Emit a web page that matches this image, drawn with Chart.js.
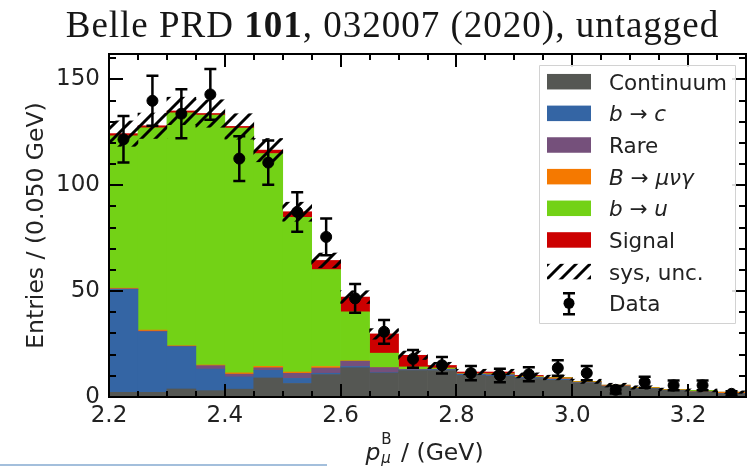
<!DOCTYPE html>
<html>
<head>
<meta charset="utf-8">
<script src="https://cdn.jsdelivr.net/npm/chart.js@4.4.1/dist/chart.umd.min.js"></script>
<style>
    html, body { margin: 0; padding: 0; background: #fff; }
    #wrap { position: relative; width: 753px; height: 467px; overflow: hidden; }
    #title {
        position: absolute; left: 0; top: 6px; width: 785px;
        text-align: center; white-space: nowrap;
        font-family: "Liberation Serif", serif; font-size: 37px; line-height: 37px;
        letter-spacing: 1px; color: #161616;
    }
    #rule { position: absolute; left: 0; top: 464px; width: 327px; height: 2px; background: #a3bfdc; }
    #axesBox { position: absolute; border: 2px solid #000; box-sizing: border-box; pointer-events: none; }
</style>
</head>
<body>
<div id="wrap">
    <canvas id="histChart" width="753" height="467"></canvas>
    <div id="axesBox"></div>
    <div id="title">Belle PRD <b>101</b>, 032007 (2020), untagged</div>
    <div id="rule"></div>
</div>
<script>
// p_mu^B bins, 0.05 GeV wide, 2.2 - 3.3 GeV (bin centres)
const binCenters = [2.225, 2.275, 2.325, 2.375, 2.425, 2.475, 2.525, 2.575, 2.625, 2.675, 2.725,
                    2.775, 2.825, 2.875, 2.925, 2.975, 3.025, 3.075, 3.125, 3.175, 3.225, 3.275];

// stacked components, bottom to top
const continuum    = [2.2, 2.2, 3.8, 3.0, 3.7, 9.0, 6.4, 10.6, 13.8, 11.3, 12.5, 12.5, 10.2, 9.8, 8.7, 7.9, 6.6, 5.0, 3.9, 3.1, 2.3, 1.5];
const bToC         = [48.6, 28.6, 19.9, 10.2, 5.8, 3.6, 2.4, 0.6, 0.6, 0.2, 0.3, 0.4, 0.5, 0.5, 0.4, 0.5, 0.1, 0.1, 0.1, 0.05, 0.05, 0.05];
const rare         = [0.3, 0.3, 0.3, 1.6, 1.3, 1.2, 2.4, 2.5, 2.5, 2.4, 0.2, 0.2, 0.2, 0.3, 0.2, 0.1, 0.1, 0.1, 0.1, 0.05, 0.05, 0.05];
const bToMuNuGamma = [0.3, 0.5, 0.2, 0.3, 0.6, 0.7, 0.6, 0.7, 0.2, 0.1, 0.1, 0.1, 0.1, 0.2, 0.2, 0.5, 0.4, 0.3, 0.3, 0.2, 0.2, 0.6];
const bToU         = [72.0, 95.5, 110.0, 118.0, 115.6, 100.5, 73.0, 45.8, 23.1, 6.7, 1.1, 0.5, 0.2, 0.2, 0.2, 0.1, 0.1, 0.1, 0.1, 0.1, 0.5, 0.1];
const signal       = [1.0, 1.0, 0.9, 0.8, 0.8, 1.6, 2.7, 4.3, 7.0, 9.1, 5.5, 1.2, 0.6, 0.8, 0.5, 0.1, 0.1, 0, 0, 0, 0, 0];

// systematic band half-width around the total
const sysUnc = [6, 6, 6.5, 6.5, 6, 5.5, 4.5, 3.5, 3, 2.5, 2, 1.5, 1.3, 1.3, 1.2, 1.1, 1, 0.9, 0.8, 0.7, 0.7, 0.6];

// measured data with statistical errors
const dataCounts = [121.7, 139.9, 133.8, 142.9, 112.6, 110.7, 87.4, 75.6, 46.6, 30.8, 18.0, 15.0, 11.3, 10.2, 10.7, 13.7, 11.3, 3.4, 7.0, 5.5, 5.5, 1.5];
const dataErr    = [11.0, 11.8, 11.6, 12.0, 10.6, 10.5, 9.3, 8.7, 6.8, 5.6, 4.2, 3.9, 3.4, 3.2, 3.3, 3.7, 3.4, 1.8, 2.6, 2.3, 2.3, 1.2];

const xTicks = [2.2, 2.4, 2.6, 2.8, 3.0, 3.2];
const yTicks = [0, 50, 100, 150];

const X_MIN = 2.2, X_MAX = 3.3, Y_MAX = 162;
const FONT = '"DejaVu Sans", sans-serif';

const COLORS = {
    continuum: '#555753',
    bToC: '#3465a4',
    rare: '#75507b',
    bToMuNuGamma: '#f57900',
    bToU: '#73d216',
    signal: '#cc0000'
};

const canvas = document.getElementById('histChart');
const mainCtx = canvas.getContext('2d');

// diagonal "///" hatch for the systematic band
function makeHatch() {
    const s = 14;
    const c = document.createElement('canvas');
    c.width = s; c.height = s;
    const g = c.getContext('2d');
    g.strokeStyle = '#000';
    g.lineWidth = 3;
    g.beginPath();
    g.moveTo(-s / 2, s / 2); g.lineTo(s / 2, -s / 2);
    g.moveTo(0, s); g.lineTo(s, 0);
    g.moveTo(s / 2, s * 1.5); g.lineTo(s * 1.5, s / 2);
    g.stroke();
    return mainCtx.createPattern(c, 'repeat');
}
const hatch = makeHatch();

const pts = arr => arr.map((v, i) => ({ x: binCenters[i], y: v }));

const totals = binCenters.map((_, i) =>
    continuum[i] + bToC[i] + rare[i] + bToMuNuGamma[i] + bToU[i] + signal[i]);

function stackSet(label, arr, color) {
    return {
        label: label,
        data: pts(arr),
        backgroundColor: color,
        borderWidth: 0,
        barPercentage: 1,
        categoryPercentage: 1,
        yAxisID: 'y'
    };
}

function drawRich(ctx, parts, x, y, size) {
    for (const [txt, italic] of parts) {
        ctx.font = (italic ? 'italic ' : '') + size + 'px ' + FONT;
        ctx.fillText(txt, x, y);
        x += ctx.measureText(txt).width;
    }
    return x;
}

const legendRows = [
    { parts: [['Continuum', false]], fill: COLORS.continuum },
    { parts: [['b', true], [' \u2192 ', false], ['c', true]], fill: COLORS.bToC },
    { parts: [['Rare', false]], fill: COLORS.rare },
    { parts: [['B', true], [' \u2192 ', false], ['\u03bc\u03bd\u03b3', true]], fill: COLORS.bToMuNuGamma },
    { parts: [['b', true], [' \u2192 ', false], ['u', true]], fill: COLORS.bToU },
    { parts: [['Signal', false]], fill: COLORS.signal },
    { parts: [['sys, unc.', false]], fill: 'hatch' },
    { parts: [['Data', false]], fill: 'data' }
];

function errorBar(ctx, x, yTop, yBot, yMid, r) {
    ctx.lineWidth = 2.5;
    ctx.beginPath();
    ctx.moveTo(x, yTop); ctx.lineTo(x, yBot);
    ctx.moveTo(x - 6, yTop); ctx.lineTo(x + 6, yTop);
    ctx.moveTo(x - 6, yBot); ctx.lineTo(x + 6, yBot);
    ctx.stroke();
    if (r) {
        ctx.beginPath();
        ctx.arc(x, yMid, r, 0, Math.PI * 2);
        ctx.fill();
    }
}

// inward major/minor ticks on all four sides
function drawTicks(chart) {
    const ctx = chart.ctx;
    const a = chart.chartArea;
    const xs = chart.scales.x, ys = chart.scales.y;
    const L = Math.round(a.left), R = Math.round(a.right), T = Math.round(a.top), B = Math.round(a.bottom);
    ctx.save();
    ctx.fillStyle = '#000';
    for (let k = 1; k < 22; k++) {
        const v = X_MIN + k * 0.05;
        const len = xTicks.some(t => Math.abs(t - v) < 1e-6) ? 13 : 6;
        const px = Math.round(xs.getPixelForValue(v));
        ctx.fillRect(px - 1, B - len, 2, len);
        ctx.fillRect(px - 1, T, 2, len);
    }
    for (let v = 10; v <= Y_MAX; v += 10) {
        const len = yTicks.includes(v) ? 14 : 7;
        const py = Math.round(ys.getPixelForValue(v));
        ctx.fillRect(L, py - 1, len, 2);
        ctx.fillRect(R - len, py - 1, len, 2);
    }
    ctx.restore();

    // the frame itself sits on top of the canvas as a bordered box
    const box = document.getElementById('axesBox');
    box.style.left = (L - 1) + 'px';
    box.style.top = (T - 1) + 'px';
    box.style.width = (R - L + 2) + 'px';
    box.style.height = (B - T + 2) + 'px';
}

function drawErrors(chart) {
    const ctx = chart.ctx;
    const a = chart.chartArea;
    const xs = chart.scales.x, ys = chart.scales.y;
    ctx.save();
    ctx.strokeStyle = '#000';
    dataCounts.forEach((v, i) => {
        const px = xs.getPixelForValue(binCenters[i]);
        errorBar(ctx, px, ys.getPixelForValue(v + dataErr[i]),
                 Math.min(ys.getPixelForValue(v - dataErr[i]), a.bottom), 0, 0);
    });
    ctx.restore();
}

function drawTitlesAndLegend(chart) {
    const ctx = chart.ctx;
    const a = chart.chartArea;
    ctx.save();
    ctx.fillStyle = '#222';
    ctx.textBaseline = 'alphabetic';

    // y axis title
    ctx.save();
    ctx.translate(43, (a.top + a.bottom) / 2);
    ctx.rotate(-Math.PI / 2);
    ctx.font = '23.5px ' + FONT;
    ctx.textAlign = 'center';
    ctx.fillText('Entries / (0.050 GeV)', 0, 0);
    ctx.restore();

    // x axis title: p_mu^B / (GeV)
    ctx.textAlign = 'left';
    ctx.font = 'italic 23.5px ' + FONT;
    const wP = ctx.measureText('p').width;
    ctx.font = '15px ' + FONT;
    const wB = ctx.measureText('B').width;
    ctx.font = '23.5px ' + FONT;
    const wRest = ctx.measureText(' / (GeV)').width;
    const total = wP + 1 + wB + 2 + wRest;
    let tx = (a.left + a.right) / 2 - total / 2 - 3;
    const base = 459.5;
    ctx.font = 'italic 23.5px ' + FONT;
    ctx.fillText('p', tx, base);
    tx += wP + 1;
    ctx.font = '15px ' + FONT;
    ctx.fillText('B', tx, base - 16);
    ctx.font = 'italic 15px ' + FONT;
    ctx.fillText('\u03bc', tx, base + 3);
    tx += wB + 2;
    ctx.font = '23.5px ' + FONT;
    ctx.fillText(' / (GeV)', tx, base);

    // legend box
    const bx = a.right - 207, by = a.top + 11, bw = 196, bh = 258;
    ctx.fillStyle = 'rgba(255,255,255,0.85)';
    ctx.strokeStyle = '#d2d2d2';
    ctx.lineWidth = 1;
    ctx.beginPath();
    ctx.rect(bx + 0.5, by + 0.5, bw, bh);
    ctx.fill();
    ctx.stroke();

    legendRows.forEach((row, i) => {
        const cy = by + 16.7 + i * 31.65;
        const px = bx + 8, pw = 44, ph = 15.5;
        if (row.fill === 'hatch') {
            ctx.fillStyle = hatch;
            ctx.fillRect(px, cy - ph / 2, pw, ph);
        } else if (row.fill === 'data') {
            ctx.strokeStyle = '#000';
            ctx.fillStyle = '#000';
            errorBar(ctx, px + pw / 2, cy - 10, cy + 11, cy, 5.5);
        } else {
            ctx.fillStyle = row.fill;
            ctx.fillRect(px, cy - ph / 2, pw, ph);
        }
        ctx.fillStyle = '#222';
        drawRich(ctx, row.parts, bx + 70, cy + 8, 21.5);
    });
    ctx.restore();
}

const decorations = {
    id: 'decorations',
    afterDraw(chart) {
        drawErrors(chart);
        drawTicks(chart);
        drawTitlesAndLegend(chart);
    }
};

new Chart(canvas, {
    type: 'bar',
    data: {
        datasets: [
            {
                type: 'line',
                label: 'Data',
                data: pts(dataCounts),
                showLine: false,
                pointRadius: 5.5,
                pointHoverRadius: 5.5,
                pointBackgroundColor: '#000',
                pointBorderColor: '#000',
                yAxisID: 'y'
            },
            {
                label: 'sys, unc.',
                data: binCenters.map((c, i) => ({ x: c, y: [totals[i] - sysUnc[i], totals[i] + sysUnc[i]] })),
                backgroundColor: hatch,
                borderWidth: 0,
                barPercentage: 1,
                categoryPercentage: 1,
                yAxisID: 'ySys'
            },
            stackSet('Continuum', continuum, COLORS.continuum),
            stackSet('b \u2192 c', bToC, COLORS.bToC),
            stackSet('Rare', rare, COLORS.rare),
            stackSet('B \u2192 \u03bc\u03bd\u03b3', bToMuNuGamma, COLORS.bToMuNuGamma),
            stackSet('b \u2192 u', bToU, COLORS.bToU),
            stackSet('Signal', signal, COLORS.signal)
        ]
    },
    options: {
        responsive: false,
        animation: false,
        events: [],
        devicePixelRatio: 1,
        layout: { padding: { top: 54, right: 7, left: 0, bottom: 0 } },
        plugins: {
            legend: { display: false },
            tooltip: { enabled: false },
            title: { display: false }
        },
        scales: {
            x: {
                type: 'linear',
                min: X_MIN,
                max: X_MAX,
                offset: false,
                stacked: true,
                grid: { display: false, drawTicks: false, offset: false },
                border: { display: false },
                afterBuildTicks: s => { s.ticks = xTicks.map(v => ({ value: v })); },
                afterFit: s => { s.height = 70; },
                ticks: {
                    autoSkip: false,
                    maxRotation: 0,
                    padding: 5,
                    color: '#222',
                    font: { family: FONT, size: 23 },
                    callback: v => Number(v).toFixed(1)
                }
            },
            y: {
                min: 0,
                max: Y_MAX,
                stacked: true,
                grid: { display: false, drawTicks: false },
                border: { display: false },
                afterBuildTicks: s => { s.ticks = yTicks.map(v => ({ value: v })); },
                afterFit: s => { s.width = 109; },
                ticks: {
                    padding: 9,
                    color: '#222',
                    font: { family: FONT, size: 23 },
                    callback: v => String(v)
                }
            },
            ySys: {
                display: false,
                min: 0,
                max: Y_MAX,
                stacked: false
            }
        }
    },
    plugins: [decorations]
});
</script>
</body>
</html>
